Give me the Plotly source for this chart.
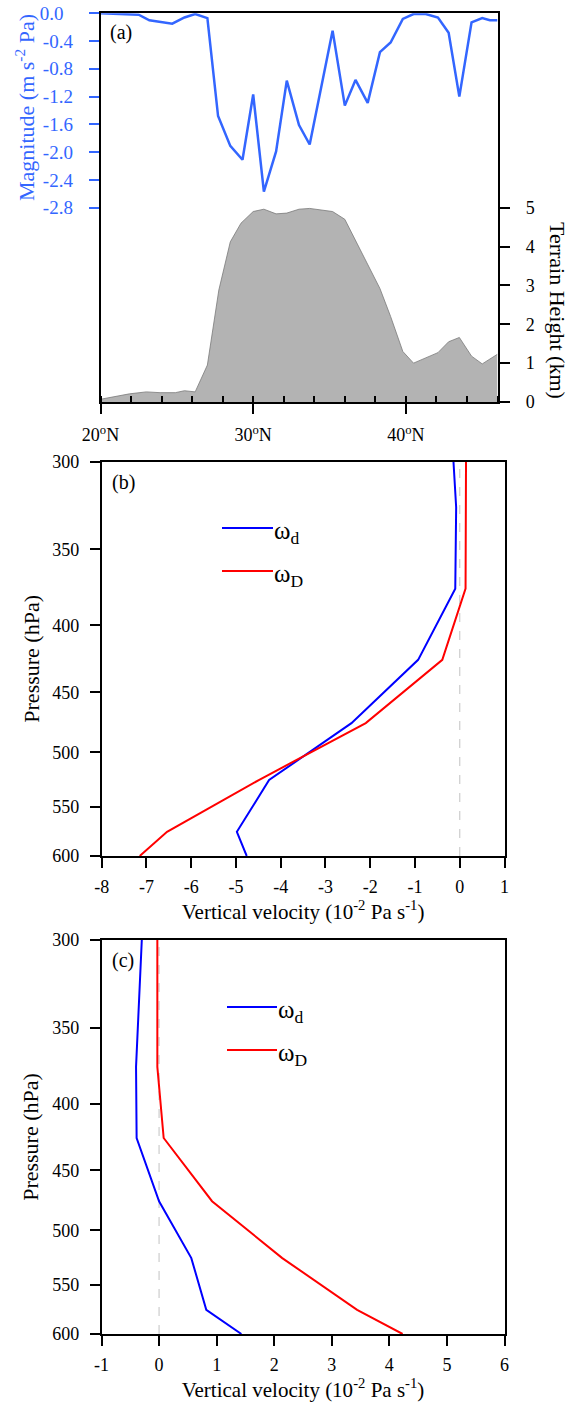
import plotly.graph_objects as go
import math

# ---------------- Data ----------------
# Panel (a): magnitude along latitude (m s^-2 Pa)
lat_mag = [20.0, 21.3, 22.5, 23.2, 24.7, 25.5, 26.2, 27.0, 27.7, 28.5, 29.3, 30.0, 30.7, 31.5,
           32.2, 33.0, 33.7, 35.2, 36.0, 36.7, 37.5, 38.3, 39.0, 39.8, 40.5, 41.3, 42.1,
           42.8, 43.5, 44.3, 45.0, 45.5, 46.0]
magnitude = [0.0, -0.01, -0.02, -0.10, -0.15, -0.06, -0.01, -0.07, -1.48, -1.91, -2.11, -1.17,
             -2.57, -1.99, -0.97, -1.61, -1.89, -0.25, -1.33, -0.96, -1.29, -0.56, -0.42, -0.08,
             -0.01, -0.01, -0.06, -0.28, -1.20, -0.13, -0.07, -0.10, -0.10]

# Panel (a): terrain height (km)
lat_ter = [20.0, 21.9, 23.0, 23.9, 24.9, 25.5, 26.2, 27.0, 27.75, 28.5, 29.2, 30.0, 30.7, 31.5,
           32.2, 33.0, 33.7, 34.4, 35.2, 36.0, 36.7, 37.5, 38.3, 39.0, 39.8, 40.5, 41.3,
           42.1, 42.8, 43.5, 44.3, 45.0, 46.0]
terrain = [0.07, 0.21, 0.26, 0.24, 0.24, 0.29, 0.26, 0.95, 2.88, 4.12, 4.60, 4.90, 4.96, 4.84,
           4.86, 4.96, 4.98, 4.94, 4.90, 4.70, 4.16, 3.52, 2.92, 2.20, 1.30, 1.00, 1.13,
           1.27, 1.55, 1.66, 1.18, 0.98, 1.23]

# Panel (b)
p_b = [300, 325, 375, 425, 475, 525, 575, 600]
wd_b = [-0.14, -0.08, -0.10, -0.93, -2.42, -4.26, -4.98, -4.76]
p_bD = [300, 375, 425, 475, 525, 575, 600]
wD_b = [0.14, 0.13, -0.39, -2.10, -4.49, -6.54, -7.15]

# Panel (c)
p_c = [300, 375, 425, 475, 525, 575, 600]
wd_c = [-0.30, -0.40, -0.39, 0.00, 0.56, 0.82, 1.43]
wD_c = [-0.03, -0.03, 0.08, 0.92, 2.14, 3.44, 4.23]

mag_ticks = [0.0, -0.4, -0.8, -1.2, -1.6, -2.0, -2.4, -2.8]
mag_ticktext = ["0.0&nbsp;&nbsp;", "-0.4", "-0.8", "-1.2", "-1.6", "-2.0", "-2.4", "-2.8"]
ter_ticks = [0, 1, 2, 3, 4, 5]
lat_ticks = [20, 30, 40]
lat_ticktext = ["20<sup>o</sup>N", "30<sup>o</sup>N", "40<sup>o</sup>N"]
p_ticks = [300, 350, 400, 450, 500, 550, 600]
vb_ticks = [-8, -7, -6, -5, -4, -3, -2, -1, 0, 1]
vc_ticks = [-1, 0, 1, 2, 3, 4, 5, 6]

# ---------------- Layout helpers ----------------
W, H = 571, 1402
FONT = "Liberation Serif"
MAGBLUE = "#3366ff"


def px(x):
    return x / W


def py(y):
    return 1 - y / H


def labels(vals):
    return [str(v) for v in vals]


fig = go.Figure()

# Panel (a)
fig.add_trace(go.Scatter(x=lat_ter, y=terrain, xaxis="x", yaxis="y2", mode="lines",
                         fill="tozeroy", fillcolor="#b3b3b3",
                         line=dict(color="#7a7a7a", width=0.8), showlegend=False))
fig.add_trace(go.Scatter(x=lat_mag, y=magnitude, xaxis="x", yaxis="y", mode="lines",
                         line=dict(color=MAGBLUE, width=2.5), showlegend=False, cliponaxis=False))

# Panel (b)
fig.add_trace(go.Scatter(x=wd_b, y=p_b, xaxis="x2", yaxis="y3", mode="lines",
                         line=dict(color="#0000ff", width=2), showlegend=False))
fig.add_trace(go.Scatter(x=wD_b, y=p_bD, xaxis="x2", yaxis="y3", mode="lines",
                         line=dict(color="#ff0000", width=2), showlegend=False))

# Panel (c)
fig.add_trace(go.Scatter(x=wd_c, y=p_c, xaxis="x3", yaxis="y4", mode="lines",
                         line=dict(color="#0000ff", width=2), showlegend=False))
fig.add_trace(go.Scatter(x=wD_c, y=p_c, xaxis="x3", yaxis="y4", mode="lines",
                         line=dict(color="#ff0000", width=2), showlegend=False))

tickfont = dict(family=FONT, size=18, color="black")

common_axis = dict(showgrid=False, zeroline=False, showline=True, linecolor="black",
                   linewidth=1.5, tickfont=tickfont, tickcolor="black", tickwidth=1.5,
                   automargin=False)
ytitle = dict(text="Pressure (hPa)", font=dict(family=FONT, size=22, color="black"), standoff=7)
xtitle = dict(text="Vertical velocity (10<sup>-2</sup> Pa s<sup>-1</sup>)",
              font=dict(family=FONT, size=21, color="black"), standoff=0)

fig.update_layout(
    width=W, height=H,
    margin=dict(l=0, r=0, t=0, b=0, autoexpand=False),
    paper_bgcolor="white", plot_bgcolor="white",
    font=dict(family=FONT, size=18, color="black"),
    # ----- panel a -----
    xaxis=dict(domain=[px(100.5), px(497.5)], range=[20, 46], anchor="y",
               tickvals=lat_ticks, ticktext=lat_ticktext, ticks="outside", ticklen=10,
               mirror=True, ticklabelstandoff=6,
               minor=dict(dtick=2, tick0=20, ticks="inside", ticklen=6, tickcolor="black",
                          tickwidth=1.5, showgrid=False),
               **common_axis),
    yaxis=dict(domain=[py(402), py(13.3)], range=[-5.6, 0], anchor="x",
               tickvals=mag_ticks, ticktext=mag_ticktext, ticks="outside", ticklen=10,
               ticklabelstandoff=12, automargin=False, ticklabeloverflow="allow",
               showgrid=False, zeroline=False, showline=True, linecolor="black", linewidth=1.5,
               tickwidth=1.5, tickcolor=MAGBLUE,
               tickfont=dict(family=FONT, size=19, color=MAGBLUE)),
    yaxis2=dict(range=[0, 10], overlaying="y", side="right", anchor="x",
                tickvals=ter_ticks, ticks="outside", ticklen=11, ticklabelstandoff=12,
                **common_axis),
    # ----- panel b -----
    xaxis2=dict(domain=[px(101.7), px(504.5)], range=[-8, 1], anchor="y3",
                tickvals=vb_ticks, ticktext=labels(vb_ticks), ticks="outside", ticklen=10,
                mirror=True, ticklabelstandoff=4, title=xtitle, **common_axis),
    yaxis3=dict(domain=[py(856), py(461.7)], type="log",
                range=[math.log10(600), math.log10(300)], anchor="x2",
                tickvals=p_ticks, ticktext=labels(p_ticks), ticks="outside", ticklen=10,
                mirror=True, ticklabelstandoff=7, title=ytitle, **common_axis),
    # ----- panel c -----
    xaxis3=dict(domain=[px(101.5), px(504.5)], range=[-1, 6], anchor="y4",
                tickvals=vc_ticks, ticktext=labels(vc_ticks), ticks="outside", ticklen=10,
                mirror=True, ticklabelstandoff=4, title=xtitle, **common_axis),
    yaxis4=dict(domain=[py(1334), py(940)], type="log",
                range=[math.log10(600), math.log10(300)], anchor="x3",
                tickvals=p_ticks, ticktext=labels(p_ticks), ticks="outside", ticklen=10,
                mirror=True, ticklabelstandoff=7, title=ytitle, **common_axis),
)

# Zero reference dashed lines (b) and (c)
for xr, yr in (("x2", "y3 domain"), ("x3", "y4 domain")):
    fig.add_shape(type="line", xref=xr, yref=yr, x0=0, x1=0, y0=0, y1=1,
                  line=dict(color="#cccccc", width=1.2, dash="dash"), layer="below")

# Legend samples
legend_specs = [
    (222, 273, 528, "#0000ff", "ω<sub>d</sub>"),
    (222, 273, 571, "#ff0000", "ω<sub>D</sub>"),
    (227, 277, 1007, "#0000ff", "ω<sub>d</sub>"),
    (227, 277, 1050, "#ff0000", "ω<sub>D</sub>"),
]
for x0, x1, yy, col, txt in legend_specs:
    fig.add_shape(type="line", xref="paper", yref="paper", x0=px(x0), x1=px(x1),
                  y0=py(yy), y1=py(yy), line=dict(color=col, width=2))
    fig.add_annotation(x=px(x1 - 1), y=py(yy + 4), xref="paper", yref="paper", text=txt,
                       showarrow=False, xanchor="left", yanchor="middle",
                       font=dict(family=FONT, size=25, color="black"))

# Panel labels
for lbl, xx, yy in (("(a)", 121, 33), ("(b)", 123, 482), ("(c)", 123, 960)):
    fig.add_annotation(x=px(xx), y=py(yy), xref="paper", yref="paper", text=lbl,
                       showarrow=False, xanchor="center", yanchor="middle",
                       font=dict(family=FONT, size=20, color="black"))

# Panel (a) axis titles
fig.add_annotation(x=px(25), y=py(108), xref="paper", yref="paper",
                   text="Magnitude (m s<sup>-2</sup> Pa)", textangle=-90, showarrow=False,
                   xanchor="center", yanchor="middle",
                   font=dict(family=FONT, size=22, color=MAGBLUE))
fig.add_annotation(x=px(558), y=py(310), xref="paper", yref="paper",
                   text="Terrain Height (km)", textangle=90, showarrow=False,
                   xanchor="center", yanchor="middle",
                   font=dict(family=FONT, size=22, color="black"))

# Remove the default page margin so the figure fills the window from its top-left corner.
fig.write_html("out.html", config={"displayModeBar": False},
               post_script="document.body.style.margin='0';document.body.style.padding='0';")
